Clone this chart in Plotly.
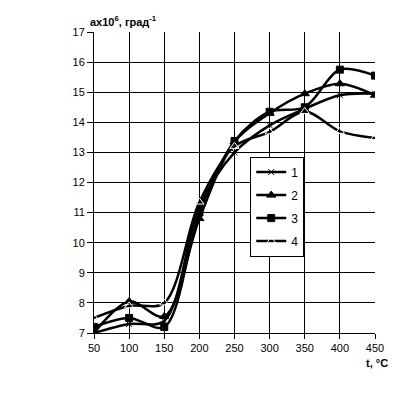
import plotly.graph_objects as go

temps = [50, 100, 150, 200, 250, 300, 350, 400, 450]
series_names = ["1", "2", "3", "4"]
s1 = [7.0, 7.3, 7.4, 11.2, 13.0, 13.9, 14.45, 14.9, 14.95]
s2 = [7.0, 8.05, 7.55, 10.8, 13.35, 14.3, 14.95, 15.28, 14.9]
s3 = [7.2, 7.5, 7.2, 11.0, 13.38, 14.35, 14.5, 15.75, 15.55]
s4 = [7.5, 7.9, 8.0, 11.35, 13.2, 13.68, 14.36, 13.7, 13.48]
x_ticks = [50, 100, 150, 200, 250, 300, 350, 400, 450]
y_ticks = [7, 8, 9, 10, 11, 12, 13, 14, 15, 16, 17]

markers = [
    dict(symbol="x-thin-open", size=6, color="black", line=dict(color="black", width=1)),
    dict(symbol="triangle-up", size=8, color="black", line=dict(color="black", width=1)),
    dict(symbol="square", size=7, color="black", line=dict(color="black", width=1)),
    dict(symbol="triangle-up-open", size=8, color="white", line=dict(color="black", width=1)),
]

fig = go.Figure()
for i, (name, ys) in enumerate(zip(series_names, [s1, s2, s3, s4])):
    fig.add_trace(go.Scatter(
        x=temps, y=ys, name=name, mode="lines+markers",
        line=dict(color="black", width=2.5, shape="spline", smoothing=0.9),
        marker=markers[i], legendgroup=name,
    ))

fig.update_layout(
    width=388, height=389,
    margin=dict(l=86, r=18, t=23.5, b=64),
    paper_bgcolor="white", plot_bgcolor="white",
    font=dict(family="Liberation Sans, Arial", size=11, color="black"),
    showlegend=True,
    legend=dict(
        x=0.556, y=0.586, xanchor="left", yanchor="top",
        bordercolor="black", borderwidth=1, bgcolor="white",
        font=dict(size=12), itemwidth=30, tracegroupgap=4,
    ),
    xaxis=dict(
        range=[50, 450], tickvals=x_ticks, showgrid=True, gridcolor="black", gridwidth=1,
        showline=True, linecolor="black", linewidth=1, ticks="outside", ticklen=5,
        tickcolor="black", zeroline=False, mirror=False,
    ),
    yaxis=dict(
        range=[7, 17], tickvals=y_ticks, showgrid=True, gridcolor="black", gridwidth=1,
        showline=True, linecolor="black", linewidth=1, ticks="outside", ticklen=6,
        tickcolor="black", zeroline=False,
    ),
    annotations=[
        dict(text="<b>ax10<sup>6</sup>, град<sup>-1</sup></b>", xref="paper", yref="paper",
             x=-0.02, y=1.0, xanchor="left", yanchor="bottom", yshift=2, showarrow=False,
             font=dict(size=11)),
        dict(text="<b>t, °C</b>", xref="paper", yref="paper", x=1.055, y=0, xanchor="right",
             yanchor="top", yshift=-22, showarrow=False, font=dict(size=11)),
    ],
)
fig.write_html("out.html")
